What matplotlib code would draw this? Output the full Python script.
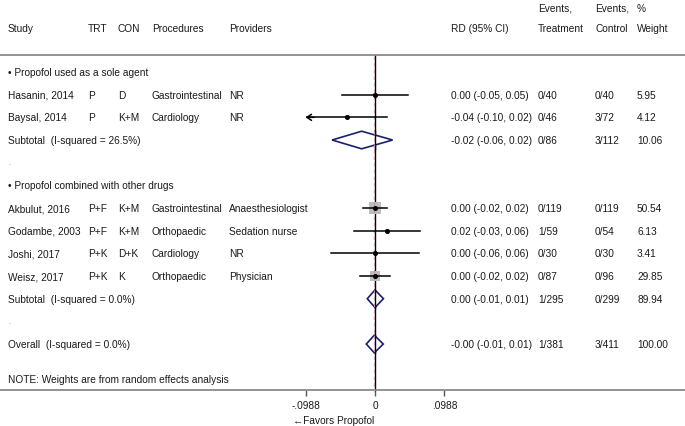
import matplotlib
matplotlib.use("Agg")
import matplotlib.pyplot as plt
from matplotlib.patches import Polygon
from matplotlib.transforms import blended_transform_factory

plt.rcParams['font.family'] = ['Liberation Sans', 'DejaVu Sans']
plt.rcParams['font.size'] = 7.3

# ---------------- data ----------------
studies = ['Hasanin, 2014', 'Baysal, 2014', 'Akbulut, 2016', 'Godambe, 2003', 'Joshi, 2017', 'Weisz, 2017']
trt = ['P', 'P', 'P+F', 'P+F', 'P+K', 'P+K']
con = ['D', 'K+M', 'K+M', 'K+M', 'D+K', 'K']
procedures = ['Gastrointestinal', 'Cardiology', 'Gastrointestinal', 'Orthopaedic', 'Cardiology', 'Orthopaedic']
providers = ['NR', 'NR', 'Anaesthesiologist', 'Sedation nurse', 'NR', 'Physician']
rd = [0.0, -0.040, 0.0, 0.0166, 0.0, 0.0]
lo = [-0.047, -0.100, -0.0166, -0.0294, -0.062, -0.021]
hi = [0.047, 0.0166, 0.0166, 0.064, 0.062, 0.021]
weights = [5.95, 4.12, 50.54, 6.13, 3.41, 29.85]
rd_text = ['0.00 (-0.05, 0.05)', '-0.04 (-0.10, 0.02)', '0.00 (-0.02, 0.02)',
           '0.02 (-0.03, 0.06)', '0.00 (-0.06, 0.06)', '0.00 (-0.02, 0.02)']
ev_trt = ['0/40', '0/46', '0/119', '1/59', '0/30', '0/87']
ev_con = ['0/40', '3/72', '0/119', '0/54', '0/30', '0/96']
study_rows = [1, 2, 6, 7, 8, 9]

group_labels = ['\u2022 Propofol used as a sole agent', '\u2022 Propofol combined with other drugs']
group_rows = [0, 5]

sub_labels = ['Subtotal  (I-squared = 26.5%)', 'Subtotal  (I-squared = 0.0%)', 'Overall  (I-squared = 0.0%)']
sub_rd = [-0.019, 0.0, -0.001]
sub_lo = [-0.061, -0.011, -0.0124]
sub_hi = [0.025, 0.012, 0.0118]
sub_text = ['-0.02 (-0.06, 0.02)', '0.00 (-0.01, 0.01)', '-0.00 (-0.01, 0.01)']
sub_ev_trt = ['0/86', '1/295', '1/381']
sub_ev_con = ['3/112', '0/299', '3/411']
sub_weight = ['10.06', '89.94', '100.00']
sub_rows = [3, 10, 12]
dot_rows = [4, 11]

xticks = [-0.0988, 0, 0.0988]
xtick_labels = ['-.0988', '0', '.0988']

# ---------------- layout ----------------
W, H = 685, 427
fig = plt.figure(figsize=(W / 100, H / 100), dpi=100)
ax = fig.add_axes([0, 0, 1, 1])
x0_px, ppu = 375.0, 703.0          # pixel of RD=0, pixels per RD unit
y0_px, ppr = 73.0, 22.67           # pixel of row 0, pixels per row
ax.set_xlim(-x0_px / ppu, (W - x0_px) / ppu)
ax.set_ylim((H - y0_px) / ppr, -y0_px / ppr)

def px2row(p):
    return (p - y0_px) / ppr

tr = blended_transform_factory(fig.transFigure, ax.transData)
def col(px):
    return px / W

TXT = '#1a1a1a'
NAVY = '#1c1f6b'
GREY_LINE = '#8a8a8a'
DASH = '#c890a8'

# header
hdr1 = px2row(8.5)
hdr2 = px2row(28.5)
for x, t in [(8, 'Study'), (88, 'TRT'), (118, 'CON'), (152, 'Procedures'), (229, 'Providers'),
             (451, 'RD (95% CI)'), (538, 'Treatment'), (595, 'Control'), (637, 'Weight')]:
    ax.text(col(x), hdr2, t, transform=tr, ha='left', va='center', color=TXT)
for x, t in [(538, 'Events,'), (595, 'Events,'), (637, '%')]:
    ax.text(col(x), hdr1, t, transform=tr, ha='left', va='center', color=TXT)

ax.axhline(px2row(56), color=GREY_LINE, lw=1.3, zorder=1)

# group labels and dots
for r, t in zip(group_rows, group_labels):
    ax.text(col(8), r, t, transform=tr, ha='left', va='center', color=TXT)
for r in dot_rows:
    ax.text(col(8), r, '.', transform=tr, ha='left', va='center', color='#999999', fontsize=6)

# vertical reference lines
top_r, bot_r = px2row(57), px2row(391)
ax.plot([0, 0], [top_r, bot_r], color='black', lw=1.0, zorder=2)
ax.plot([sub_rd[2], sub_rd[2]], [top_r, bot_r], color=DASH, lw=0.8, ls=(0, (3, 3)), zorder=3)

xmin_plot = xticks[0]

# studies
for i, r in enumerate(study_rows):
    side_px = 1.786 * weights[i] ** 0.5
    ax.scatter([rd[i]], [r], marker='s', s=(side_px * 0.72) ** 2, color='#bdbdbd', linewidths=0, zorder=2.5)
    if lo[i] < xmin_plot:
        ax.plot([xmin_plot + 0.002, hi[i]], [r, r], color='black', lw=1.1, zorder=4)
        ax.annotate('', xy=(xmin_plot, r), xytext=(xmin_plot + 0.012, r),
                    arrowprops=dict(arrowstyle='->,head_length=0.45,head_width=0.3', lw=1.1, color='black',
                                    shrinkA=0, shrinkB=0), zorder=4)
    else:
        ax.plot([lo[i], hi[i]], [r, r], color='black', lw=1.1, zorder=4)
    ax.plot([rd[i]], [r], marker='o', ms=2.6, color='black', zorder=5)
    ax.text(col(8), r, studies[i], transform=tr, ha='left', va='center', color=TXT)
    ax.text(col(88), r, trt[i], transform=tr, ha='left', va='center', color=TXT)
    ax.text(col(118), r, con[i], transform=tr, ha='left', va='center', color=TXT)
    ax.text(col(152), r, procedures[i], transform=tr, ha='left', va='center', color=TXT)
    ax.text(col(229), r, providers[i], transform=tr, ha='left', va='center', color=TXT)
    ax.text(col(451), r, rd_text[i], transform=tr, ha='left', va='center', color=TXT)
    ax.text(col(538), r, ev_trt[i], transform=tr, ha='left', va='center', color=TXT)
    ax.text(col(595), r, ev_con[i], transform=tr, ha='left', va='center', color=TXT)
    ax.text(col(637), r, f'{weights[i]:.2f}', transform=tr, ha='left', va='center', color=TXT)

# subtotals / overall diamonds
hd = 8.8 / ppr
for j, r in enumerate(sub_rows):
    poly = Polygon([(sub_lo[j], r), (sub_rd[j], r - hd), (sub_hi[j], r), (sub_rd[j], r + hd)],
                   closed=True, facecolor='white', edgecolor=NAVY, lw=1.2, zorder=4)
    ax.add_patch(poly)
    ax.plot([0, 0], [r - hd, r + hd], color='black', lw=1.0, zorder=4.5)
    ax.plot([sub_rd[2], sub_rd[2]], [r - hd, r + hd], color=DASH, lw=0.8, ls=(0, (3, 3)), zorder=4.6)
    ax.text(col(8), r, sub_labels[j], transform=tr, ha='left', va='center', color=TXT)
    ax.text(col(451), r, sub_text[j], transform=tr, ha='left', va='center', color=TXT)
    ax.text(col(538), r, sub_ev_trt[j], transform=tr, ha='left', va='center', color=TXT)
    ax.text(col(595), r, sub_ev_con[j], transform=tr, ha='left', va='center', color=TXT)
    ax.text(col(637), r, sub_weight[j], transform=tr, ha='left', va='center', color=TXT)

ax.text(col(8), px2row(380), 'NOTE: Weights are from random effects analysis', transform=tr,
        ha='left', va='center', color=TXT)

# axis
for s in ['top', 'left', 'right']:
    ax.spines[s].set_visible(False)
ax.spines['bottom'].set_position(('data', bot_r))
ax.spines['bottom'].set_color(GREY_LINE)
ax.spines['bottom'].set_linewidth(1.3)
ax.set_yticks([])
ax.set_xticks(xticks)
ax.set_xticklabels(xtick_labels)
ax.tick_params(axis='x', direction='out', length=4.5, width=1.0, color='#555555', pad=2.5,
               labelsize=7.3, labelcolor=TXT)

ax.text(334 / ppu - x0_px / ppu, px2row(421), '\u2190Favors Propofol', ha='center', va='center', color=TXT)

fig.savefig('out.png', dpi=100)
